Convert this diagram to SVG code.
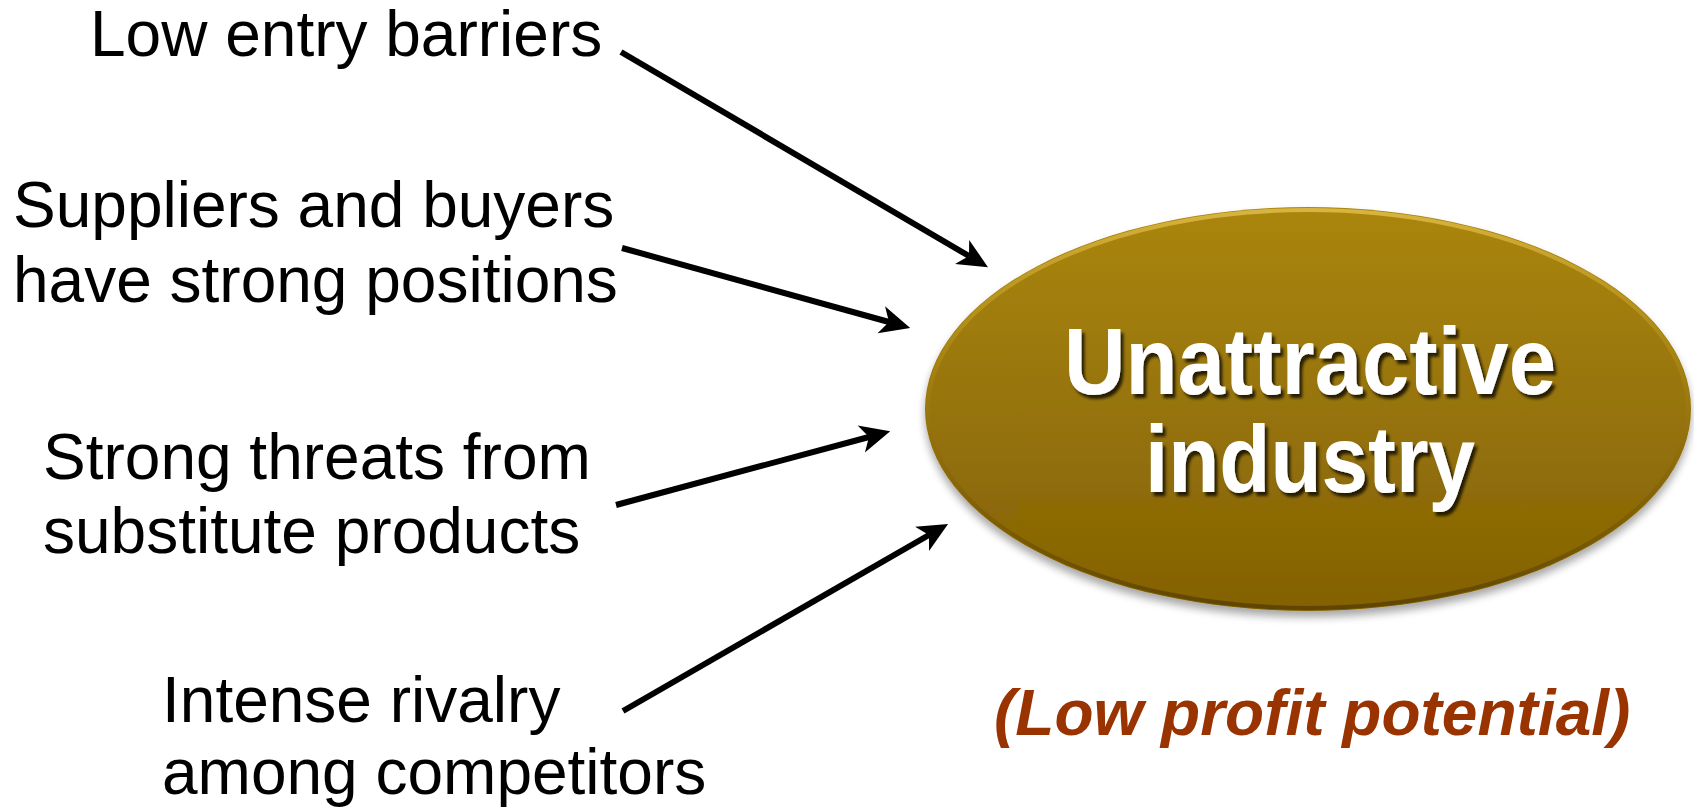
<svg xmlns="http://www.w3.org/2000/svg" width="1694" height="809" viewBox="0 0 1694 809">
<defs>
<style>
.lbl{font-family:"Liberation Sans",Arial,sans-serif;font-size:64px;fill:#000}
.title{font-family:"Liberation Sans",Arial,sans-serif;font-weight:bold;font-size:95px;fill:#fff;text-anchor:middle}
.note{font-family:"Liberation Sans",Arial,sans-serif;font-weight:bold;font-style:italic;font-size:64px;fill:#993300}
.conn{stroke:#000;stroke-width:6;fill:none;marker-end:url(#ah)}
</style>
<marker id="ah" markerUnits="userSpaceOnUse" viewBox="-12 -16 36 32" refX="0" refY="0" markerWidth="36" markerHeight="32" orient="auto">
<path d="M22,0 L-8,-14 L0,0 L-8,14 Z" fill="#000"/>
</marker>
<linearGradient id="gold" x1="0" y1="0" x2="0" y2="1">
<stop offset="0" stop-color="#AA860B"/>
<stop offset="1" stop-color="#836105"/>
</linearGradient>
<linearGradient id="rim" x1="0" y1="0" x2="0" y2="1">
<stop offset="0" stop-color="#D8B440"/>
<stop offset="0.35" stop-color="#B8941A" stop-opacity="0.5"/>
<stop offset="0.7" stop-color="#7A5A04" stop-opacity="0.4"/>
<stop offset="1" stop-color="#5E4503"/>
</linearGradient>
<filter id="shadow" x="-10%" y="-10%" width="120%" height="125%">
<feGaussianBlur in="SourceAlpha" stdDeviation="4"/>
<feOffset dx="0" dy="6" result="b"/>
<feComponentTransfer><feFuncA type="linear" slope="0.35"/></feComponentTransfer>
<feMerge><feMergeNode/><feMergeNode in="SourceGraphic"/></feMerge>
</filter>
<filter id="tshadow" x="-10%" y="-10%" width="120%" height="130%">
<feDropShadow dx="3" dy="4" stdDeviation="1.5" flood-color="#000" flood-opacity="0.75"/>
</filter>
</defs>
<rect width="1694" height="809" fill="#fff"/>
<g id="connectors">
<path class="conn" d="M621,52 L969,256"/>
<path class="conn" d="M622,248 L889,322"/>
<path class="conn" d="M616,505 L869,437"/>
<path class="conn" d="M623,711 L929,535"/>
</g>
<g id="node-low-entry">
<text class="lbl" x="90" y="56">Low entry barriers</text>
</g>
<g id="node-suppliers">
<text class="lbl" x="13" y="227">Suppliers and buyers</text>
<text class="lbl" x="13" y="302">have strong positions</text>
</g>
<g id="node-substitutes">
<text class="lbl" x="43" y="479">Strong threats from</text>
<text class="lbl" x="43" y="553">substitute products</text>
</g>
<g id="node-rivalry">
<text class="lbl" x="162" y="722">Intense rivalry</text>
<text class="lbl" x="162" y="794">among competitors</text>
</g>
<g id="node-industry">
<ellipse cx="1308" cy="409" rx="383" ry="202" fill="url(#gold)" filter="url(#shadow)"/>
<ellipse cx="1308" cy="409" rx="380" ry="199" fill="none" stroke="url(#rim)" stroke-width="4"/>
<g filter="url(#tshadow)">
<text class="title" x="1310" y="394" textLength="492" lengthAdjust="spacingAndGlyphs">Unattractive</text>
<text class="title" x="1310" y="492" textLength="330" lengthAdjust="spacingAndGlyphs">industry</text>
</g>
</g>
<g id="node-note">
<text class="note" x="994" y="735">(Low profit potential)</text>
</g>
</svg>
